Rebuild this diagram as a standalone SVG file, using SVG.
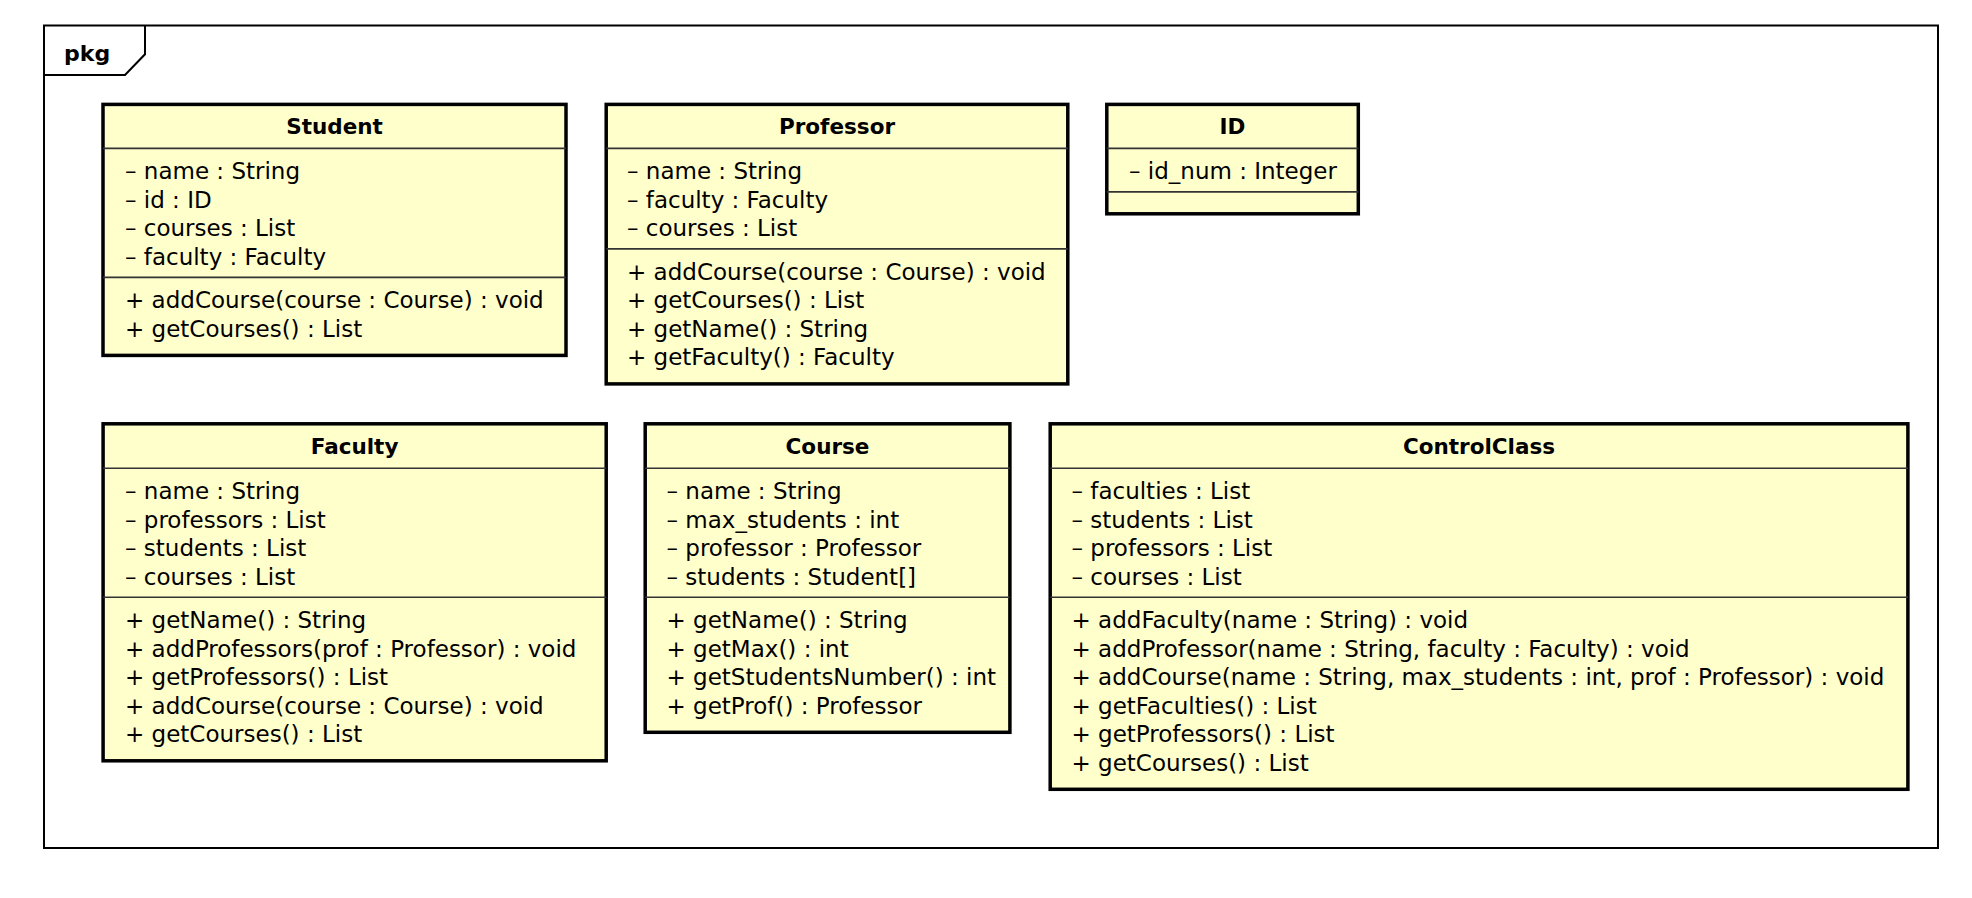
<svg xmlns="http://www.w3.org/2000/svg" width="1972" height="898" viewBox="0 0 1972 898">
<style>
.frame{fill:none;stroke:#000;stroke-width:2}
.box{fill:#ffffcc;stroke:#000;stroke-width:3.5}
.sep{stroke:#333;stroke-width:1.6}
.t{font-family:"DejaVu Sans",sans-serif;font-size:23px;fill:#000}
.h{font-weight:bold;text-anchor:middle;font-size:21.5px}
.pkg{font-family:"DejaVu Sans",sans-serif;font-size:22px;font-weight:bold;fill:#000}
</style>
<rect width="1972" height="898" fill="#fff"/>
<g id="package">
<rect class="frame" x="44" y="25.5" width="1894" height="822.5"/>
<path class="frame" d="M44,75 H125 L145,54.3 V25.5"/>
<text class="pkg" x="64" y="61">pkg</text>
</g>
<g id="connectors"></g>
<g id="Student">
<rect class="box" x="103" y="104.4" width="463" height="251"/>
<line class="sep" x1="103" y1="148.4" x2="566" y2="148.4"/>
<line class="sep" x1="103" y1="277.4" x2="566" y2="277.4"/>
<text class="t h" x="334.5" y="134.4">Student</text>
<text class="t" x="125" y="179.4">– name : String</text>
<text class="t" x="125" y="207.9">– id : ID</text>
<text class="t" x="125" y="236.4">– courses : List</text>
<text class="t" x="125" y="264.9">– faculty : Faculty</text>
<text class="t" x="125" y="308.4">+ addCourse(course : Course) : void</text>
<text class="t" x="125" y="336.9">+ getCourses() : List</text>
</g>
<g id="Professor">
<rect class="box" x="606.2" y="104.4" width="461.6" height="279.5"/>
<line class="sep" x1="606.2" y1="148.4" x2="1067.8" y2="148.4"/>
<line class="sep" x1="606.2" y1="248.9" x2="1067.8" y2="248.9"/>
<text class="t h" x="837" y="134.4">Professor</text>
<text class="t" x="627" y="179.4">– name : String</text>
<text class="t" x="627" y="207.9">– faculty : Faculty</text>
<text class="t" x="627" y="236.4">– courses : List</text>
<text class="t" x="627" y="279.9">+ addCourse(course : Course) : void</text>
<text class="t" x="627" y="308.4">+ getCourses() : List</text>
<text class="t" x="627" y="336.9">+ getName() : String</text>
<text class="t" x="627" y="365.4">+ getFaculty() : Faculty</text>
</g>
<g id="ID">
<rect class="box" x="1106.8" y="104.4" width="251.5" height="109.4"/>
<line class="sep" x1="1106.8" y1="148.4" x2="1358.3" y2="148.4"/>
<line class="sep" x1="1106.8" y1="191.9" x2="1358.3" y2="191.9"/>
<text class="t h" x="1232.5" y="134.4">ID</text>
<text class="t" x="1129" y="179.4">– id_num : Integer</text>
</g>
<g id="Faculty">
<rect class="box" x="103.1" y="423.8" width="503.1" height="337"/>
<line class="sep" x1="103.1" y1="468.3" x2="606.2" y2="468.3"/>
<line class="sep" x1="103.1" y1="597.3" x2="606.2" y2="597.3"/>
<text class="t h" x="354.6" y="453.8">Faculty</text>
<text class="t" x="125" y="499.3">– name : String</text>
<text class="t" x="125" y="527.8">– professors : List</text>
<text class="t" x="125" y="556.3">– students : List</text>
<text class="t" x="125" y="584.8">– courses : List</text>
<text class="t" x="125" y="628.3">+ getName() : String</text>
<text class="t" x="125" y="656.8">+ addProfessors(prof : Professor) : void</text>
<text class="t" x="125" y="685.3">+ getProfessors() : List</text>
<text class="t" x="125" y="713.8">+ addCourse(course : Course) : void</text>
<text class="t" x="125" y="742.3">+ getCourses() : List</text>
</g>
<g id="Course">
<rect class="box" x="645.2" y="423.8" width="364.7" height="308.5"/>
<line class="sep" x1="645.2" y1="468.3" x2="1009.9" y2="468.3"/>
<line class="sep" x1="645.2" y1="597.3" x2="1009.9" y2="597.3"/>
<text class="t h" x="827.5" y="453.8">Course</text>
<text class="t" x="666.5" y="499.3">– name : String</text>
<text class="t" x="666.5" y="527.8">– max_students : int</text>
<text class="t" x="666.5" y="556.3">– professor : Professor</text>
<text class="t" x="666.5" y="584.8">– students : Student[]</text>
<text class="t" x="666.5" y="628.3">+ getName() : String</text>
<text class="t" x="666.5" y="656.8">+ getMax() : int</text>
<text class="t" x="666.5" y="685.3">+ getStudentsNumber() : int</text>
<text class="t" x="666.5" y="713.8">+ getProf() : Professor</text>
</g>
<g id="ControlClass">
<rect class="box" x="1050.2" y="423.8" width="857.7" height="365.5"/>
<line class="sep" x1="1050.2" y1="468.3" x2="1907.9" y2="468.3"/>
<line class="sep" x1="1050.2" y1="597.3" x2="1907.9" y2="597.3"/>
<text class="t h" x="1479" y="453.8">ControlClass</text>
<text class="t" x="1071.5" y="499.3">– faculties : List</text>
<text class="t" x="1071.5" y="527.8">– students : List</text>
<text class="t" x="1071.5" y="556.3">– professors : List</text>
<text class="t" x="1071.5" y="584.8">– courses : List</text>
<text class="t" x="1071.5" y="628.3">+ addFaculty(name : String) : void</text>
<text class="t" x="1071.5" y="656.8">+ addProfessor(name : String, faculty : Faculty) : void</text>
<text class="t" x="1071.5" y="685.3">+ addCourse(name : String, max_students : int, prof : Professor) : void</text>
<text class="t" x="1071.5" y="713.8">+ getFaculties() : List</text>
<text class="t" x="1071.5" y="742.3">+ getProfessors() : List</text>
<text class="t" x="1071.5" y="770.8">+ getCourses() : List</text>
</g>
</svg>
